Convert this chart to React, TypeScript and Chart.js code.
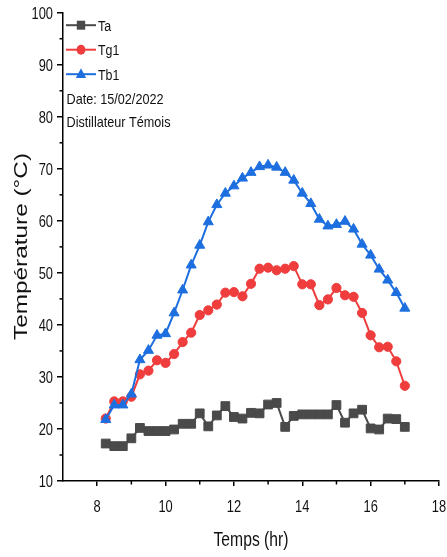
import React, { useEffect, useRef } from 'react';
import { Chart, registerables } from 'chart.js';

Chart.register(...registerables);

// ---------- data ----------
const times = [
  8.25, 8.5, 8.75, 9, 9.25, 9.5, 9.75, 10, 10.25, 10.5, 10.75, 11,
  11.25, 11.5, 11.75, 12, 12.25, 12.5, 12.75, 13, 13.25, 13.5, 13.75, 14,
  14.25, 14.5, 14.75, 15, 15.25, 15.5, 15.75, 16, 16.25, 16.5, 16.75, 17,
];
const ta = [
  17.2, 16.7, 16.7, 18.2, 20.2, 19.6, 19.6, 19.6, 19.9, 21.0, 21.0, 23.0,
  20.5, 22.6, 24.4, 22.3, 22.0, 23.1, 23.0, 24.7, 25.0, 20.4, 22.5, 22.8,
  22.8, 22.8, 22.8, 24.6, 21.2, 23.0, 23.7, 20.1, 19.9, 22.0, 21.9, 20.4,
];
const tg1 = [
  22.0, 25.3, 25.3, 26.2, 30.5, 31.2, 33.2, 32.7, 34.4, 36.7, 38.5, 41.9,
  42.8, 43.9, 46.2, 46.3, 45.5, 47.9, 50.8, 51.0, 50.5, 50.8, 51.3, 47.8,
  47.8, 43.8, 44.9, 47.1, 45.7, 45.4, 42.3, 38.0, 35.7, 35.8, 33.0, 28.3,
];
const tb1 = [
  21.8, 24.6, 24.6, 26.7, 33.3, 35.1, 38.0, 38.3, 42.3, 46.7, 51.5, 55.3,
  59.8, 63.1, 65.3, 66.7, 68.2, 69.3, 70.4, 70.7, 70.3, 69.3, 67.8, 65.3,
  63.3, 60.3, 59.0, 59.3, 59.9, 58.4, 55.5, 53.4, 50.7, 48.6, 46.2, 43.2,
];

const seriesNames = ['Ta', 'Tg1', 'Tb1'];
const noteLines = ['Date: 15/02/2022', 'Distillateur Témois'];
const xTitle = 'Temps (hr)';
const yTitle = 'Température (°C)';

const xTicks = [8, 10, 12, 14, 16, 18];
const xMinorTicks = [9, 11, 13, 15, 17];
const yTicks = [10, 20, 30, 40, 50, 60, 70, 80, 90, 100];
const yMinorTicks = [15, 25, 35, 45, 55, 65, 75, 85, 95];

// ---------- styles ----------
const GREY = '#4A4A4A';
const RED = '#EF3D3D';
const BLUE = '#1D6FDF';
const SANS = '"Liberation Sans", Arial, sans-serif';
const NARROW_K = 0.78;

function drawMarker(ctx: CanvasRenderingContext2D, kind: string, x: number, y: number, color: string) {
  ctx.fillStyle = color;
  ctx.beginPath();
  if (kind === 'rect') {
    ctx.rect(x - 4.2, y - 4.5, 8.4, 9);
  } else if (kind === 'circle') {
    ctx.ellipse(x, y, 4.4, 5, 0, 0, Math.PI * 2);
  } else {
    ctx.moveTo(x, y - 6);
    ctx.lineTo(x + 5.2, y + 3.8);
    ctx.lineTo(x - 5.2, y + 3.8);
    ctx.closePath();
  }
  ctx.fill();
}

// draws text at origin, squeezed horizontally (by factor or to a target width)
function drawScaledText(
  ctx: CanvasRenderingContext2D,
  text: string,
  font: string,
  k: number | null,
  targetWidth: number | null,
) {
  ctx.font = font;
  let s = k ?? 1;
  if (targetWidth) s = targetWidth / ctx.measureText(text).width;
  ctx.scale(s, 1);
  ctx.fillText(text, 0, 0);
}

const decorPlugin = {
  id: 'decor',
  afterDraw(chart: any) {
    const ctx: CanvasRenderingContext2D = chart.ctx;
    const xs = chart.scales.x;
    const ys = chart.scales.y;
    const area = chart.chartArea;
    ctx.save();

    // minor ticks
    ctx.strokeStyle = '#000';
    ctx.lineWidth = 1.5;
    for (const v of yMinorTicks) {
      const py = ys.getPixelForValue(v);
      ctx.beginPath();
      ctx.moveTo(area.left - 3.5, py);
      ctx.lineTo(area.left, py);
      ctx.stroke();
    }
    for (const v of xMinorTicks) {
      const px = xs.getPixelForValue(v);
      ctx.beginPath();
      ctx.moveTo(px, area.bottom);
      ctx.lineTo(px, area.bottom + 3.5);
      ctx.stroke();
    }

    // tick labels (narrow style) placed via the scales
    ctx.fillStyle = '#111';
    ctx.textBaseline = 'alphabetic';
    for (const t of ys.ticks) {
      const py = ys.getPixelForValue(t.value);
      ctx.save();
      ctx.textAlign = 'right';
      ctx.translate(area.left - 10, py + 6);
      drawScaledText(ctx, String(t.value), `16.5px ${SANS}`, NARROW_K, null);
      ctx.restore();
    }
    for (const t of xs.ticks) {
      const px = xs.getPixelForValue(t.value);
      ctx.save();
      ctx.textAlign = 'center';
      ctx.translate(px, area.bottom + 31);
      drawScaledText(ctx, String(t.value), `16.5px ${SANS}`, NARROW_K, null);
      ctx.restore();
    }

    // legend
    const colors = [GREY, RED, BLUE];
    const kinds = ['rect', 'circle', 'triangle'];
    const lx0 = area.left + 3;
    const lx1 = area.left + 33;
    seriesNames.forEach((name, i) => {
      const y = area.top + 12.5 + i * 24.5;
      ctx.strokeStyle = colors[i];
      ctx.lineWidth = 2;
      ctx.beginPath();
      ctx.moveTo(lx0, y);
      ctx.lineTo(lx1, y);
      ctx.stroke();
      drawMarker(ctx, kinds[i], (lx0 + lx1) / 2, y, colors[i]);
      ctx.save();
      ctx.fillStyle = '#111';
      ctx.textAlign = 'left';
      ctx.textBaseline = 'alphabetic';
      ctx.translate(lx1 + 2, y + 5.7);
      drawScaledText(ctx, name, `15.5px ${SANS}`, 0.8, null);
      ctx.restore();
    });
    const noteWidths = [97, 104];
    noteLines.forEach((t, i) => {
      ctx.save();
      ctx.fillStyle = '#111';
      ctx.textAlign = 'left';
      ctx.textBaseline = 'alphabetic';
      ctx.translate(area.left + 3.5, area.top + 91.5 + i * 23);
      drawScaledText(ctx, t, `15px ${SANS}`, null, noteWidths[i]);
      ctx.restore();
    });

    // axis titles
    ctx.fillStyle = '#111';
    ctx.save();
    ctx.textAlign = 'center';
    ctx.textBaseline = 'alphabetic';
    ctx.translate((area.left + area.right) / 2, 546);
    drawScaledText(ctx, xTitle, `21px ${SANS}`, null, 75);
    ctx.restore();

    ctx.save();
    ctx.textAlign = 'center';
    ctx.textBaseline = 'alphabetic';
    ctx.translate(26.5, 246.5);
    ctx.rotate(-Math.PI / 2);
    drawScaledText(ctx, yTitle, `18px ${SANS}`, null, 187);
    ctx.restore();

    ctx.restore();
  },
};

export default function App() {
  const ref = useRef<HTMLCanvasElement | null>(null);

  useEffect(() => {
    if (!ref.current) return;
    const mk = (data: number[]) => times.map((t, i) => ({ x: t, y: data[i] }));
    const chart = new Chart(ref.current, {
      type: 'line',
      data: {
        datasets: [
          {
            label: seriesNames[2],
            data: mk(tb1),
            borderColor: BLUE,
            backgroundColor: BLUE,
            borderWidth: 2,
            pointStyle: 'triangle',
            pointRadius: 5.8,
            pointBorderWidth: 1,
            tension: 0,
            order: 0,
          },
          {
            label: seriesNames[1],
            data: mk(tg1),
            borderColor: RED,
            backgroundColor: RED,
            borderWidth: 2,
            pointStyle: 'circle',
            pointRadius: 4.6,
            pointBorderWidth: 1,
            tension: 0,
            order: 1,
          },
          {
            label: seriesNames[0],
            data: mk(ta),
            borderColor: GREY,
            backgroundColor: GREY,
            borderWidth: 2,
            pointStyle: 'rect',
            pointRadius: 6.2,
            pointBorderWidth: 1,
            tension: 0,
            order: 2,
          },
        ],
      },
      options: {
        animation: false,
        responsive: false,
        maintainAspectRatio: false,
        layout: { padding: { left: 0, right: 8, top: 12.7, bottom: 0 } },
        plugins: {
          legend: { display: false },
          tooltip: { enabled: false },
        },
        scales: {
          x: {
            type: 'linear',
            min: 7,
            max: 18,
            afterBuildTicks: (scale: any) => {
              scale.ticks = xTicks.map((v) => ({ value: v }));
            },
            afterFit: (scale: any) => {
              scale.height = 76;
              scale.paddingLeft = 0;
              scale.paddingRight = 0;
            },
            border: { display: true, color: '#000', width: 1.5 },
            grid: {
              display: true,
              drawOnChartArea: false,
              drawTicks: true,
              tickLength: 5,
              color: '#000',
              lineWidth: 1.5,
            },
            ticks: { display: false },
          },
          y: {
            type: 'linear',
            min: 10,
            max: 100,
            afterBuildTicks: (scale: any) => {
              scale.ticks = yTicks.map((v) => ({ value: v }));
            },
            afterFit: (scale: any) => {
              scale.width = 63;
              scale.paddingTop = 0;
              scale.paddingBottom = 0;
            },
            border: { display: true, color: '#000', width: 1.5 },
            grid: {
              display: true,
              drawOnChartArea: false,
              drawTicks: true,
              tickLength: 6,
              color: '#000',
              lineWidth: 1.5,
            },
            ticks: { display: false },
          },
        },
      },
      plugins: [decorPlugin],
    });
    return () => chart.destroy();
  }, []);

  return (
    <div style={{ position: 'absolute', left: 0, top: 0, width: 447, height: 557, background: '#fff' }}>
      <canvas ref={ref} width={447} height={557} style={{ display: 'block' }} />
    </div>
  );
}
